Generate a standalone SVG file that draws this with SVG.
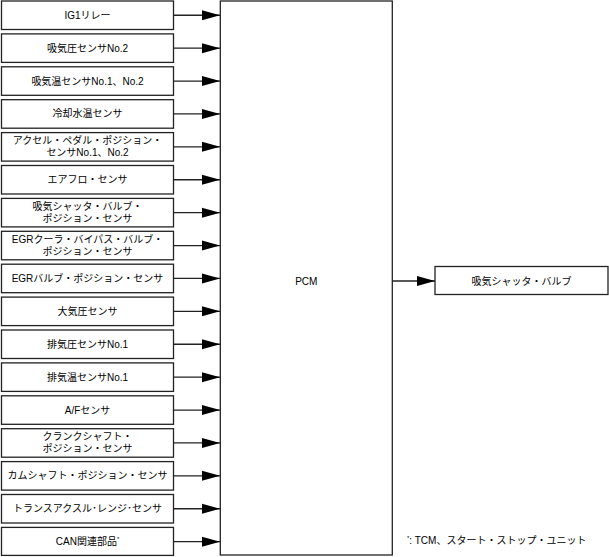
<svg xmlns="http://www.w3.org/2000/svg" width="609" height="557" viewBox="0 0 609 557">
<style>
.box{fill:#fff;stroke:#222;stroke-width:1.3}
.lbl{font-family:"Liberation Sans","Noto Sans CJK JP",sans-serif;font-size:10px;fill:#000;text-anchor:middle}
.conn{stroke:#222;stroke-width:1.3;fill:none;marker-end:url(#ah)}
</style>
<defs>
<marker id="ah" markerUnits="userSpaceOnUse" markerWidth="19" markerHeight="11" refX="18" refY="5.5" orient="auto"><path d="M0,0.5 L18,5.5 L0,10.5 z" fill="#000"/></marker>
</defs>
<rect width="609" height="557" fill="#fff"/>
<g id="n0"><rect class="box" x="1.5" y="1" width="172" height="28.5"/><text class="lbl" x="87.5" y="18.7">IG1リレー</text></g>
<g id="n1"><rect class="box" x="1.5" y="33.9" width="172" height="28.5"/><text class="lbl" x="87.5" y="51.6">吸気圧センサNo.2</text></g>
<g id="n2"><rect class="box" x="1.5" y="66.8" width="172" height="28.5"/><text class="lbl" x="87.5" y="84.5">吸気温センサNo.1、No.2</text></g>
<g id="n3"><rect class="box" x="1.5" y="99.7" width="172" height="28.5"/><text class="lbl" x="87.5" y="117.4">冷却水温センサ</text></g>
<g id="n4"><rect class="box" x="1.5" y="132.6" width="172" height="28.5"/><text class="lbl" x="87.5" y="144.3">アクセル・ペダル・ポジション・</text><text class="lbl" x="87.5" y="156.3">センサNo.1、No.2</text></g>
<g id="n5"><rect class="box" x="1.5" y="165.5" width="172" height="28.5"/><text class="lbl" x="87.5" y="183.2">エアフロ・センサ</text></g>
<g id="n6"><rect class="box" x="1.5" y="198.4" width="172" height="28.5"/><text class="lbl" x="87.5" y="210.1">吸気シャッタ・バルブ・</text><text class="lbl" x="87.5" y="222.1">ポジション・センサ</text></g>
<g id="n7"><rect class="box" x="1.5" y="231.3" width="172" height="28.5"/><text class="lbl" x="87.5" y="243">EGRクーラ・バイパス・バルブ・</text><text class="lbl" x="87.5" y="255">ポジション・センサ</text></g>
<g id="n8"><rect class="box" x="1.5" y="264.2" width="172" height="28.5"/><text class="lbl" x="87.5" y="281.9">EGRバルブ・ポジション・センサ</text></g>
<g id="n9"><rect class="box" x="1.5" y="297.1" width="172" height="28.5"/><text class="lbl" x="87.5" y="314.8">大気圧センサ</text></g>
<g id="n10"><rect class="box" x="1.5" y="330" width="172" height="28.5"/><text class="lbl" x="87.5" y="347.7">排気圧センサNo.1</text></g>
<g id="n11"><rect class="box" x="1.5" y="362.9" width="172" height="28.5"/><text class="lbl" x="87.5" y="380.6">排気温センサNo.1</text></g>
<g id="n12"><rect class="box" x="1.5" y="395.8" width="172" height="28.5"/><text class="lbl" x="87.5" y="413.5">A/Fセンサ</text></g>
<g id="n13"><rect class="box" x="1.5" y="428.7" width="172" height="28.5"/><text class="lbl" x="87.5" y="440.4">クランクシャフト・</text><text class="lbl" x="87.5" y="452.4">ポジション・センサ</text></g>
<g id="n14"><rect class="box" x="1.5" y="461.6" width="172" height="28.5"/><text class="lbl" x="87.5" y="479.3">カムシャフト・ポジション・センサ</text></g>
<g id="n15"><rect class="box" x="1.5" y="494.5" width="172" height="28.5"/><text class="lbl" x="87.5" y="512.2">トランスアクスル･レンジ･センサ</text></g>
<g id="n16"><rect class="box" x="1.5" y="527.4" width="172" height="28"/><text class="lbl" x="87.5" y="545.1">CAN関連部品<tspan font-size="6" dy="-4">*</tspan></text></g>
<g id="pcm"><rect class="box" x="220.3" y="1" width="172" height="554"/><text class="lbl" x="306.3" y="284.5">PCM</text></g>
<g id="out"><rect class="box" x="435" y="266.5" width="173" height="28"/><text class="lbl" x="521.5" y="284.5">吸気シャッタ・バルブ</text></g>
<g id="connectors">
<line class="conn" x1="173.5" y1="15.25" x2="220" y2="15.25"/>
<line class="conn" x1="173.5" y1="48.15" x2="220" y2="48.15"/>
<line class="conn" x1="173.5" y1="81.05" x2="220" y2="81.05"/>
<line class="conn" x1="173.5" y1="113.95" x2="220" y2="113.95"/>
<line class="conn" x1="173.5" y1="146.85" x2="220" y2="146.85"/>
<line class="conn" x1="173.5" y1="179.75" x2="220" y2="179.75"/>
<line class="conn" x1="173.5" y1="212.65" x2="220" y2="212.65"/>
<line class="conn" x1="173.5" y1="245.55" x2="220" y2="245.55"/>
<line class="conn" x1="173.5" y1="278.45" x2="220" y2="278.45"/>
<line class="conn" x1="173.5" y1="311.35" x2="220" y2="311.35"/>
<line class="conn" x1="173.5" y1="344.25" x2="220" y2="344.25"/>
<line class="conn" x1="173.5" y1="377.15" x2="220" y2="377.15"/>
<line class="conn" x1="173.5" y1="410.05" x2="220" y2="410.05"/>
<line class="conn" x1="173.5" y1="442.95" x2="220" y2="442.95"/>
<line class="conn" x1="173.5" y1="475.85" x2="220" y2="475.85"/>
<line class="conn" x1="173.5" y1="508.75" x2="220" y2="508.75"/>
<line class="conn" x1="173.5" y1="541.65" x2="220" y2="541.65"/>
<line class="conn" x1="392.3" y1="281" x2="435" y2="281"/>
</g>
<text x="407" y="544" style="font-family:'Liberation Sans','Noto Sans CJK JP',sans-serif;font-size:10px;fill:#000"><tspan font-size="6" dy="-4">*</tspan><tspan dy="4">: TCM、スタート・ストップ・ユニット</tspan></text>
</svg>
